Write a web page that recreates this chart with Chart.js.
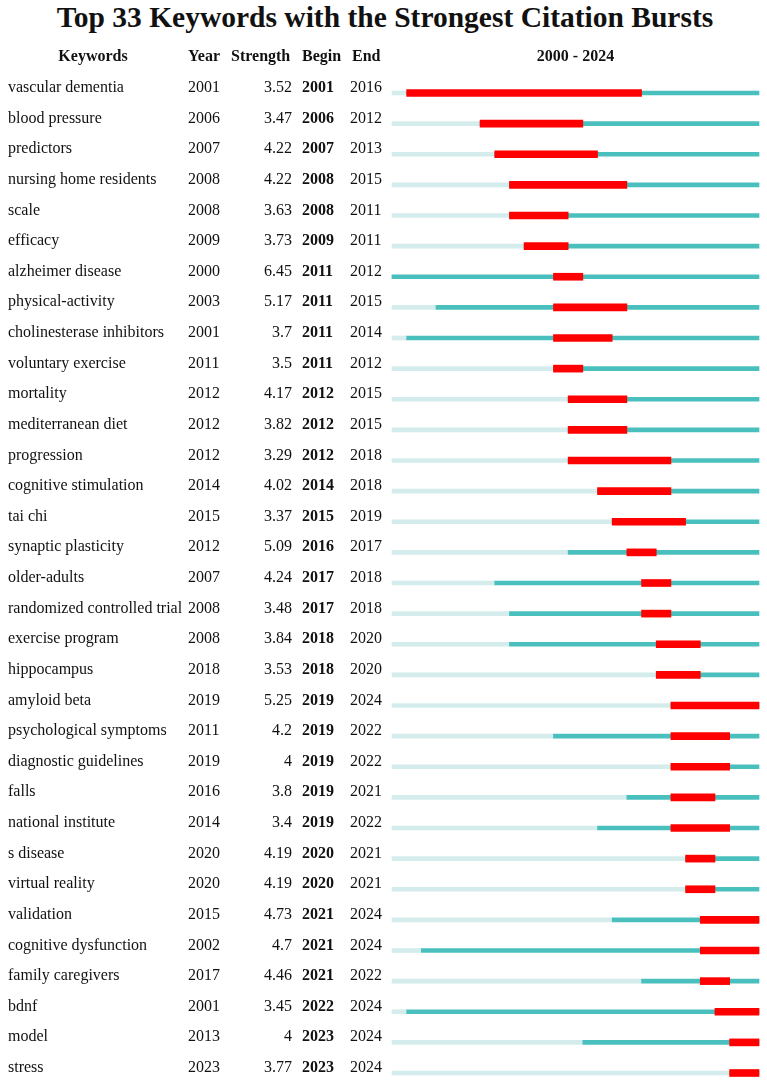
<!DOCTYPE html>
<html>
<head>
<meta charset="utf-8">
<script src="https://cdn.jsdelivr.net/npm/chart.js@4"></script>
<style>
  body { margin: 0; background: #fff; }
  #wrap { position: relative; width: 767px; height: 1080px; overflow: hidden; font-family: "Liberation Serif", "Times New Roman", serif; color: #111; }
  #myChart { position: absolute; left: 0; top: 0; }
  .t { position: absolute; font-size: 16px; line-height: 20px; white-space: nowrap; }
  .b { font-weight: bold; }
  #title { position: absolute; left: 0; width: 770px; top: 0; text-align: center; font-weight: bold; font-size: 29.5px; line-height: 34px; white-space: nowrap; }
</style>
</head>
<body>
<div id="wrap">
  <div id="title">Top 33 Keywords with the Strongest Citation Bursts</div>
  <canvas id="myChart" width="767" height="1080"></canvas>
</div>
<script>
const keywords = ['vascular dementia', 'blood pressure', 'predictors', 'nursing home residents', 'scale', 'efficacy',
  'alzheimer disease', 'physical-activity', 'cholinesterase inhibitors', 'voluntary exercise', 'mortality',
  'mediterranean diet', 'progression', 'cognitive stimulation', 'tai chi', 'synaptic plasticity', 'older-adults',
  'randomized controlled trial', 'exercise program', 'hippocampus', 'amyloid beta', 'psychological symptoms',
  'diagnostic guidelines', 'falls', 'national institute', 's disease', 'virtual reality', 'validation',
  'cognitive dysfunction', 'family caregivers', 'bdnf', 'model', 'stress'];
const years = [2001, 2006, 2007, 2008, 2008, 2009, 2000, 2003, 2001, 2011, 2012, 2012, 2012, 2014, 2015, 2012, 2007,
  2008, 2008, 2018, 2019, 2011, 2019, 2016, 2014, 2020, 2020, 2015, 2002, 2017, 2001, 2013, 2023];
const strengths = ['3.52', '3.47', '4.22', '4.22', '3.63', '3.73', '6.45', '5.17', '3.7', '3.5', '4.17', '3.82', '3.29',
  '4.02', '3.37', '5.09', '4.24', '3.48', '3.84', '3.53', '5.25', '4.2', '4', '3.8', '3.4', '4.19', '4.19', '4.73',
  '4.7', '4.46', '3.45', '4', '3.77'];
const begins = [2001, 2006, 2007, 2008, 2008, 2009, 2011, 2011, 2011, 2011, 2012, 2012, 2012, 2014, 2015, 2016, 2017,
  2017, 2018, 2018, 2019, 2019, 2019, 2019, 2019, 2020, 2020, 2021, 2021, 2021, 2022, 2023, 2023];
const ends = [2016, 2012, 2013, 2015, 2011, 2011, 2012, 2015, 2014, 2012, 2015, 2015, 2018, 2018, 2019, 2017, 2018,
  2018, 2020, 2020, 2024, 2022, 2022, 2021, 2022, 2021, 2021, 2024, 2024, 2022, 2024, 2024, 2024];
const firstYear = 2000;
const lastYear = 2024;

function initChart(target) {
  const data = {
    labels: keywords,
    datasets: [
      {
        label: 'burst',
        data: begins.map((b, i) => [b, ends[i] + 1]),
        backgroundColor: 'rgb(255, 0, 0)',
        barThickness: 7,
        grouped: false,
        clip: false
      },
      {
        label: 'present',
        data: years.map((y) => [y, lastYear + 1]),
        backgroundColor: 'rgb(74, 192, 190)',
        barThickness: 4,
        grouped: false,
        clip: false
      },
      {
        label: 'before',
        data: years.map((y) => [firstYear, y]),
        backgroundColor: 'rgb(212, 236, 236)',
        barThickness: 4,
        grouped: false,
        clip: false
      }
    ]
  };

  const config = {
    type: 'bar',
    data: data,
    options: {
      indexAxis: 'y',
      responsive: false,
      animation: false,
      layout: { padding: { left: 392, right: 8, top: 93, bottom: 7 } },
      plugins: { legend: { display: false }, tooltip: { enabled: false } },
      scales: {
        x: { display: false, min: firstYear, max: lastYear + 1 },
        y: { display: false, offset: false }
      }
    }
  };

  return new Chart(target, config);
}

function addText(wrap, txt, x, baseline, opts) {
  const d = document.createElement('div');
  d.className = 't' + (opts.bold ? ' b' : '');
  d.textContent = txt;
  d.style.top = (baseline - 15.4) + 'px';
  if (opts.right) {
    d.style.right = (767 - x) + 'px';
  } else if (opts.center) {
    d.style.left = (x - 100) + 'px';
    d.style.width = '200px';
    d.style.textAlign = 'center';
  } else {
    d.style.left = x + 'px';
  }
  wrap.appendChild(d);
}

function MainEvent() {
  const wrap = document.querySelector('#wrap');
  const chart = initChart(document.querySelector('#myChart'));
  const yScale = chart.scales.y;
  const area = chart.chartArea;

  // header row, one row pitch above the first row
  const pitch = yScale.getPixelForValue(1) - yScale.getPixelForValue(0);
  const headBase = yScale.getPixelForValue(0) - pitch - 0.5;
  addText(wrap, 'Keywords', 93, headBase, { bold: true, center: true });
  addText(wrap, 'Year', 188, headBase, { bold: true });
  addText(wrap, 'Strength', 231, headBase, { bold: true });
  addText(wrap, 'Begin', 302, headBase, { bold: true });
  addText(wrap, 'End', 352, headBase, { bold: true });
  addText(wrap, firstYear + ' - ' + lastYear, (area.left + area.right) / 2, headBase, { bold: true, center: true });

  keywords.forEach((k, i) => {
    const base = yScale.getPixelForValue(i) - 0.5;
    addText(wrap, k, 8, base, {});
    addText(wrap, String(years[i]), 188, base, {});
    addText(wrap, strengths[i], 292, base, { right: true });
    addText(wrap, String(begins[i]), 302, base, { bold: true });
    addText(wrap, String(ends[i]), 350, base, {});
  });
}

document.addEventListener('DOMContentLoaded', () => MainEvent());
</script>
</body>
</html>
